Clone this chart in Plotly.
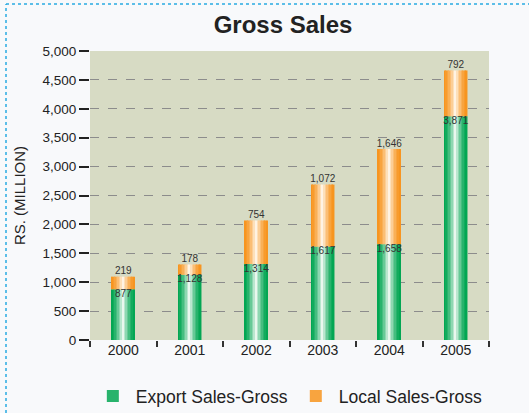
import plotly.graph_objects as go

# ── data ─────────────────────────────────────────
years = ['2000', '2001', '2002', '2003', '2004', '2005']
export_sales = [877, 1128, 1314, 1617, 1658, 3871]
local_sales = [219, 178, 754, 1072, 1646, 792]

y_ticks = list(range(0, 5001, 500))

# ── helpers ──────────────────────────────────────
def mix(c1, c2, t):
    a = [int(c1[i:i + 2], 16) for i in (1, 3, 5)]
    b = [int(c2[i:i + 2], 16) for i in (1, 3, 5)]
    return '#' + ''.join(f'{round(x + (y - x) * t):02x}' for x, y in zip(a, b))


def add_gradient_bars(fig, vals, base, edge, centre, name, n=15, width=0.35):
    """draw a bar series as thin vertical strips to fake the cylinder shading"""
    step = width / n
    for i in range(n):
        pos = (i + 0.5) / n               # 0..1 across the bar
        t = 1 - abs(pos - 0.5) * 2        # 0 at edges, 1 in the middle
        t = t ** 1.6
        fig.add_trace(go.Bar(
            x=years, y=vals, base=base,
            offset=-width / 2 + i * step, width=step * 1.05,
            marker=dict(color=mix(edge, centre, t), line_width=0),
            name=name, legendgroup=name,
            showlegend=(i == 2),
            hoverinfo='skip',
        ))


fig = go.Figure()

add_gradient_bars(fig, export_sales, [0] * len(years), '#00a551', '#eaf7ee', 'Export Sales-Gross')
add_gradient_bars(fig, local_sales, export_sales, '#f7941d', '#fff3e3', 'Local Sales-Gross')

totals = [e + l for e, l in zip(export_sales, local_sales)]

# value labels
fig.add_trace(go.Scatter(
    x=years, y=totals, mode='text', text=[f'{v:,}' for v in local_sales],
    textposition='top center', textfont=dict(size=10, color='#333333'),
    showlegend=False, hoverinfo='skip'))
fig.add_trace(go.Scatter(
    x=years, y=export_sales, mode='text', text=[f'{v:,}' for v in export_sales],
    textposition='bottom center', textfont=dict(size=10, color='#333333'),
    showlegend=False, hoverinfo='skip'))

fig.update_layout(
    width=529, height=413,
    margin=dict(l=90, r=40, t=51, b=73, autoexpand=False),
    barmode='overlay',
    paper_bgcolor='#f8f9fb',
    plot_bgcolor='#d7dbc4',
    font=dict(family='Liberation Sans, Arial, sans-serif', color='#222222'),
    title=dict(text='<b>Gross Sales</b>', x=0.535, xref='container',
               y=1 - 25 / 413, yref='container', yanchor='middle',
               font=dict(size=24, color='#222222')),
    legend=dict(orientation='h', x=0.546, xref='container', xanchor='center',
                y=1 - 396 / 413, yref='container', yanchor='middle',
                font=dict(size=17.5, color='#222222'), bgcolor='rgba(0,0,0,0)',
                traceorder='normal', itemwidth=36),
    showlegend=True,
)

fig.update_xaxes(
    type='category', range=[-0.5, 5.5], automargin=False,
    tickson='boundaries', ticks='outside', ticklen=6, tickwidth=1.5, tickcolor='#333333',
    tickfont=dict(size=14, color='#222222'),
    showgrid=False, showline=False, zeroline=False,
)
fig.update_yaxes(
    range=[0, 5000], tickvals=y_ticks, ticktext=[f'{v:,}' for v in y_ticks],
    automargin=False,
    ticks='outside', ticklen=10, tickwidth=2, tickcolor='#222222',
    tickfont=dict(size=13.5, color='#222222'),
    showgrid=True, gridcolor='#8c8c8c', griddash='dash', gridwidth=1,
    zeroline=False, showline=False,
    title=dict(text='RS. (MILLION)', font=dict(size=15, color='#222222'), standoff=13),
)

# dotted frame at top / left of the panel
fig.add_shape(type='line', xref='paper', yref='paper',
              x0=(6 - 90) / 399, x1=(529 - 90) / 399, y0=(340 - 4) / 289, y1=(340 - 4) / 289,
              line=dict(color='#29abe2', width=1.5, dash='dot'))
fig.add_shape(type='line', xref='paper', yref='paper',
              x0=(6 - 90) / 399, x1=(6 - 90) / 399, y0=(340 - 413) / 289, y1=(340 - 4) / 289,
              line=dict(color='#29abe2', width=1.5, dash='dot'))

# page body has a default 8px margin; drop it so the figure sits at the window origin
fig.write_html('out.html', config={'displayModeBar': False},
               post_script="document.body.style.margin='0';")
